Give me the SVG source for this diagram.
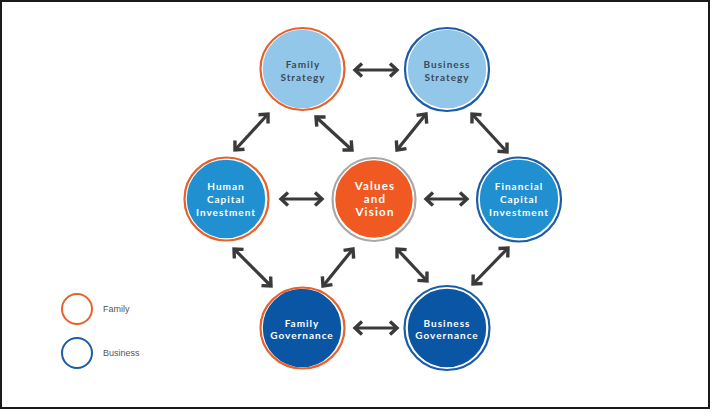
<svg xmlns="http://www.w3.org/2000/svg" width="712" height="412" viewBox="0 0 712 412">
<style>
.lbl{font-family:Lato,"Open Sans","DejaVu Sans",sans-serif;font-weight:bold;font-size:10px;letter-spacing:1px;text-anchor:middle}
.dk{fill:#3c4a58}
.wt{fill:#ffffff}
.vv{font-size:11.5px;letter-spacing:1.2px}
.conn line{stroke:#3a3a3a;stroke-width:3.2;marker-start:url(#ah);marker-end:url(#ah)}
.ring{fill:none;stroke:#ffffff;stroke-width:1.6}
.fam{fill:none;stroke:#e5622d;stroke-width:2.2}
.bus{fill:none;stroke:#1a5ca6;stroke-width:2.2}
.gry{fill:none;stroke:#a8a8a8;stroke-width:2.2}
.leg{font-family:"Liberation Sans",Arial,sans-serif;font-size:9px;fill:#555555}
</style>
<defs>
<marker id="ah" markerUnits="userSpaceOnUse" markerWidth="24" markerHeight="24" viewBox="-12 -12 24 24" refX="0" refY="0" orient="auto-start-reverse">
<path d="M-7,-6.5 L0,0 L-7,6.5" fill="none" stroke="#3a3a3a" stroke-width="3.4" stroke-linecap="butt" stroke-linejoin="miter"/>
</marker>
</defs>
<rect x="1" y="1" width="708" height="407" fill="#ffffff" stroke="#1a1a1a" stroke-width="2"/>

<g id="connectors" class="conn">
<line x1="355" y1="70" x2="397" y2="70"/>
<line x1="281" y1="199" x2="322" y2="199"/>
<line x1="426" y1="199" x2="467" y2="199"/>
<line x1="355" y1="328" x2="397" y2="328"/>
<line x1="268" y1="114" x2="235" y2="150"/>
<line x1="316" y1="117" x2="352" y2="150"/>
<line x1="426" y1="114" x2="397" y2="150"/>
<line x1="472" y1="114" x2="507" y2="152"/>
<line x1="234" y1="249" x2="271" y2="286"/>
<line x1="353" y1="249" x2="323" y2="286"/>
<line x1="397" y1="249" x2="427" y2="281"/>
<line x1="508" y1="248" x2="473" y2="284"/>
</g>

<g id="family-strategy">
<circle cx="302" cy="69" r="40" fill="#93c7ea"/>
<circle class="ring" cx="302" cy="69" r="40"/>
<ellipse class="fam" cx="302.5" cy="69" rx="42" ry="41"/>
<text class="lbl dk" x="303" y="67.5">Family</text>
<text class="lbl dk" x="303" y="80.5">Strategy</text>
</g>

<g id="business-strategy">
<circle cx="447" cy="69" r="40" fill="#93c7ea"/>
<circle class="ring" cx="447" cy="69" r="40"/>
<ellipse class="bus" cx="447" cy="69.5" rx="42" ry="41.5"/>
<text class="lbl dk" x="447" y="67.5">Business</text>
<text class="lbl dk" x="447" y="80.5">Strategy</text>
</g>

<g id="human-capital-investment">
<circle cx="226" cy="199" r="40" fill="#2190d1"/>
<circle class="ring" cx="226" cy="199" r="40"/>
<ellipse class="fam" cx="226.5" cy="199" rx="42" ry="41.5"/>
<text class="lbl wt" x="226" y="189.5">Human</text>
<text class="lbl wt" x="226" y="202.5">Capital</text>
<text class="lbl wt" x="226" y="215.5">Investment</text>
</g>

<g id="values-and-vision">
<circle cx="374" cy="199" r="39.5" fill="#f05a22"/>
<circle class="ring" cx="374" cy="199" r="39.5"/>
<ellipse class="gry" cx="374" cy="199.5" rx="41.5" ry="41.5"/>
<text class="lbl wt vv" x="375" y="190">Values</text>
<text class="lbl wt vv" x="375" y="203">and</text>
<text class="lbl wt vv" x="375" y="216">Vision</text>
</g>

<g id="financial-capital-investment">
<circle cx="519" cy="199" r="40" fill="#2190d1"/>
<circle class="ring" cx="519" cy="199" r="40"/>
<ellipse class="bus" cx="519" cy="199.5" rx="42" ry="42"/>
<text class="lbl wt" x="519" y="189.5">Financial</text>
<text class="lbl wt" x="519" y="202.5">Capital</text>
<text class="lbl wt" x="519" y="215.5">Investment</text>
</g>

<g id="family-governance">
<circle cx="302" cy="328" r="40" fill="#0b56a4"/>
<circle class="ring" cx="302" cy="328" r="40"/>
<ellipse class="fam" cx="302.5" cy="328" rx="42" ry="40.5"/>
<text class="lbl wt" x="302" y="326.5">Family</text>
<text class="lbl wt" x="302" y="338.5">Governance</text>
</g>

<g id="business-governance">
<circle cx="447" cy="328" r="40" fill="#0b56a4"/>
<circle class="ring" cx="447" cy="328" r="40"/>
<ellipse class="bus" cx="447" cy="328" rx="42.5" ry="42"/>
<text class="lbl wt" x="447" y="326.5">Business</text>
<text class="lbl wt" x="447" y="338.5">Governance</text>
</g>

<g id="legend">
<circle cx="77" cy="309" r="15" fill="none" stroke="#e5622d" stroke-width="2"/>
<text class="leg" x="103" y="312">Family</text>
<circle cx="77" cy="353" r="15" fill="none" stroke="#1a5ca6" stroke-width="2"/>
<text class="leg" x="103" y="356">Business</text>
</g>
</svg>
